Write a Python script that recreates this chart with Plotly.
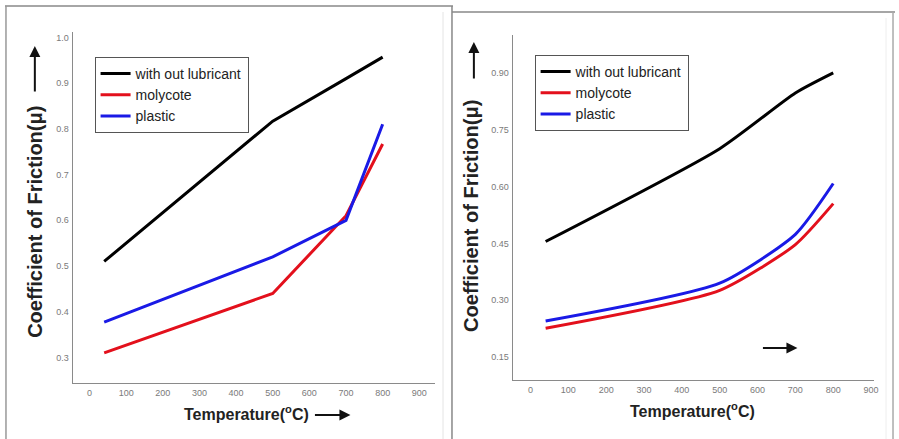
import plotly.graph_objects as go

temps = [40, 500, 700, 800]

# Left panel
left_without = [0.51, 0.817, 0.91, 0.957]
left_molycote = [0.31, 0.44, 0.61, 0.767]
left_plastic = [0.377, 0.52, 0.60, 0.81]

# Right panel
right_without = [0.455, 0.70, 0.847, 0.90]
right_molycote = [0.226, 0.326, 0.447, 0.555]
right_plastic = [0.245, 0.345, 0.474, 0.608]

series_names = ["with out lubricant", "molycote", "plastic"]
colors = ["#000000", "#e3101c", "#1a1ae6"]

x_ticks = [0, 100, 200, 300, 400, 500, 600, 700, 800, 900]
left_y_ticks = [0.3, 0.4, 0.5, 0.6, 0.7, 0.8, 0.9, 1.0]
left_y_labels = ["0.3", "0.4", "0.5", "0.6", "0.7", "0.8", "0.9", "1.0"]
right_y_ticks = [0.15, 0.30, 0.45, 0.60, 0.75, 0.90]
right_y_labels = ["0.15", "0.30", "0.45", "0.60", "0.75", "0.90"]

W, H = 899, 439
def px(x):
    return x / W
def py(y):
    return 1 - y / H

fig = go.Figure()

for name, vals, c in zip(series_names, [left_without, left_molycote, left_plastic], colors):
    fig.add_trace(go.Scatter(x=temps, y=vals, mode="lines", name=name,
                             line=dict(color=c, width=3), xaxis="x", yaxis="y", legend="legend"))
for name, vals, c in zip(series_names, [right_without, right_molycote, right_plastic], colors):
    fig.add_trace(go.Scatter(x=temps, y=vals, mode="lines", name=name,
                             line=dict(color=c, width=3, shape="spline", smoothing=0.6),
                             xaxis="x2", yaxis="y2", legend="legend2"))

tickfont = dict(family="Liberation Sans, Arial, sans-serif", size=9, color="#7a7a7a")
axis_common = dict(showgrid=False, zeroline=False, showline=True, linecolor="#8a8a8a",
                   linewidth=1.2, ticks="", tickfont=tickfont, fixedrange=True,
                   ticklabelstandoff=1)

legend_font = dict(family="Liberation Sans, Arial, sans-serif", size=14, color="#222")

fig.update_layout(
    width=W, height=H,
    margin=dict(l=0, r=0, t=0, b=0),
    paper_bgcolor="white", plot_bgcolor="white",
    font=dict(family="Liberation Sans, Arial, sans-serif"),
    xaxis=dict(domain=[px(73), px(437)], range=[-46, 943], tickvals=x_ticks,
               anchor="y", **axis_common),
    yaxis=dict(domain=[py(383), py(32)], range=[0.244, 1.012], tickvals=left_y_ticks,
               ticktext=left_y_labels, anchor="x", **axis_common),
    xaxis2=dict(domain=[px(515), px(878)], range=[-47, 908], tickvals=x_ticks,
                anchor="y2", **axis_common),
    yaxis2=dict(domain=[py(380), py(35)], range=[0.0895, 1.0], tickvals=right_y_ticks,
                ticktext=right_y_labels, anchor="x2", **axis_common),
    legend=dict(x=px(95), y=py(57), xanchor="left", yanchor="top",
                bgcolor="white", bordercolor="#555555", borderwidth=1,
                font=legend_font, tracegroupgap=0, itemwidth=30),
    legend2=dict(x=px(537), y=py(55), xanchor="left", yanchor="top",
                 bgcolor="white", bordercolor="#555555", borderwidth=1,
                 font=legend_font, tracegroupgap=0, itemwidth=30),
)

ytitle_font = dict(family="Liberation Sans, Arial, sans-serif", size=20, color="#222")
xtitle_font = dict(family="Liberation Sans, Arial, sans-serif", size=16, color="#222")

annotations = [
    dict(text="<b>Coefficient of Friction(μ)</b>", x=px(35), y=py(222), textangle=-90,
         showarrow=False, font=ytitle_font),
    dict(text="<b>Coefficient of Friction(μ)</b>", x=px(473), y=py(216), textangle=-90,
         showarrow=False, font=ytitle_font),
    dict(text="<b>Temperature(<sup>o</sup>C)</b>", x=px(248), y=py(413),
         showarrow=False, font=xtitle_font),
    dict(text="<b>Temperature(<sup>o</sup>C)</b>", x=px(696), y=py(410),
         showarrow=False, font=xtitle_font),
]
# arrows (pointer glyphs): head (hx, hy), tail (tx, ty) in pixels
arrow_specs = [
    (35, 46, 35, 93),
    (476, 42, 476, 80),
    (352, 415, 315, 415),
    (801, 348, 765, 348),
]
for hx, hy, tx, ty in arrow_specs:
    annotations.append(dict(x=px(hx), y=py(hy), ax=tx - hx, ay=ty - hy,
                            axref="pixel", ayref="pixel",
                            text="", showarrow=True, arrowhead=2, arrowsize=1.1,
                            arrowwidth=2, arrowcolor="#111"))
for a in annotations:
    a.setdefault("xref", "paper")
    a.setdefault("yref", "paper")
    a.setdefault("xanchor", "center")
    a.setdefault("yanchor", "middle")
fig.update_layout(annotations=annotations)

# panel frames
shapes = [
    dict(type="line", x0=px(5), x1=px(455), y0=py(6), y1=py(6), line=dict(color="#888", width=1.5)),
    dict(type="line", x0=px(6), x1=px(6), y0=py(6), y1=py(439), line=dict(color="#999", width=1.5)),
    dict(type="line", x0=px(454), x1=px(454), y0=py(6), y1=py(439), line=dict(color="#888", width=1.5)),
    dict(type="line", x0=px(445), x1=px(445), y0=py(12), y1=py(439), line=dict(color="#e4e4e4", width=1)),
    dict(type="line", x0=px(454), x1=px(899), y0=py(12), y1=py(12), line=dict(color="#888", width=1.5)),
    dict(type="line", x0=px(897), x1=px(897), y0=py(12), y1=py(439), line=dict(color="#aaa", width=1.5)),
    dict(type="line", x0=px(890), x1=px(890), y0=py(18), y1=py(439), line=dict(color="#eeeeee", width=1)),
]
for s in shapes:
    s["xref"] = "paper"
    s["yref"] = "paper"
fig.update_layout(shapes=shapes)

fig.write_html("out.html", config={"displayModeBar": False},
               post_script="document.body.style.margin='0';document.body.style.overflow='hidden';")
